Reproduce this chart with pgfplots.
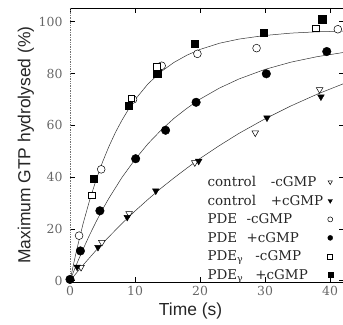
\documentclass[border=0pt]{standalone}
\usepackage{pgfplots}
\pgfplotsset{compat=1.18}
\usepackage{fontspec}
\setmainfont{DejaVu Serif}
\newfontfamily\labelfont{Liberation Sans}
\usetikzlibrary{calc}

\begin{document}
\begin{tikzpicture}
\begin{axis}[
  name=ax, at={(0,0)}, anchor=south west,
  scale only axis, width=274bp, height=274bp,
  xmin=0, xmax=42.15, ymin=-0.5, ymax=105.3,
  xtick={0,10,20,30,40}, ytick={0,20,40,60,80,100},
  tick align=inside, major tick length=5bp,
  tick style={black, line width=0.5bp},
  axis line style={draw=none},
  /pgf/number format/assume math mode=true,
  tick label style={font=\fontsize{12.5}{14}\selectfont, text=black!60},
  xticklabel style={yshift=-1bp},
  yticklabel style={xshift=-4bp},
  xlabel={Time (s)},
  ylabel={Maximum GTP hydrolysed (\%)},
  label style={font=\labelfont\fontsize{17.5}{20}\selectfont, text=black!85},
  xlabel style={at={(rel axis cs:0.44,0)}, anchor=north, yshift=-17bp},
  ylabel style={yshift=-2bp},
  legend plot pos=right,
  legend cell align=left,
  legend image post style={mark size=2.5bp},
  legend style={draw=none, fill=none, at={(axis cs:20.9,41.0)}, anchor=north west,
    font=\fontsize{13.5}{15}\selectfont, text=black!85, inner sep=0pt, row sep=4bp,
    nodes={inner sep=1.5bp},
    /tikz/every odd column/.append style={column sep=3bp}},
]
% fitted curves
\addplot[forget plot, black!80, line width=0.5bp] coordinates {
(0,0) (1,11.6) (2,21.9) (3,30.9) (4,38.8) (5,45.8) (6,51.9) (7,57.3) (8,62.0) (9,66.2)
(10,69.9) (12,76.0) (14,80.7) (16,84.3) (18,87.1) (20,89.3) (23,91.7) (26,93.3)
(30,94.7) (34,95.6) (38,96.1) (42.5,96.4)};
\addplot[forget plot, black!80, line width=0.5bp] coordinates {
(0,0) (1,6.3) (2,12.1) (3,17.6) (4,22.7) (5,27.5) (6,31.9) (8,39.9) (10,46.8)
(12,52.9) (14,58.1) (16,62.7) (18,66.6) (20,70.1) (23,74.4) (26,77.9) (30,81.6)
(34,84.4) (38,86.5) (42.5,88.3)};
\addplot[forget plot, black!80, line width=0.5bp] coordinates {
(0,0) (1,3.0) (2,6.0) (4,11.7) (6,17.0) (8,22.1) (10,26.9) (12,31.4) (14,35.7)
(16,39.7) (18,43.5) (20,47.2) (23,52.2) (26,56.9) (30,62.5) (34,67.5) (38,72.0) (42.5,76.5)};
% control -cGMP
\addplot[only marks, mark=triangle*, mark size=3.8bp, mark options={rotate=180, fill=white, draw=black, line width=0.5bp}]
 coordinates {(1.7,5.2) (4.9,14.8) (9.1,25.9) (19.2,45.6) (28.5,57.1) (38.4,73.8)};
\addlegendentry{control\hspace{1.1em}-cGMP}
% control +cGMP
\addplot[only marks, mark=triangle*, mark size=3.8bp, mark options={rotate=180, fill=black, draw=black}]
 coordinates {(0,0.5) (1.1,5.3) (4.3,12.9) (8.8,24.5) (13.2,34.7) (19.8,46.2) (30.3,62.9) (38.6,71.0)};
\addlegendentry{control\hspace{1.1em}+cGMP}
% PDE -cGMP
\addplot[only marks, mark=*, mark size=3.9bp, mark options={fill=white, draw=black, line width=0.5bp}]
 coordinates {(1.4,17.4) (4.8,43.0) (9.7,70.0) (14.1,83.0) (19.6,87.6) (28.7,89.8) (41.2,97.1)};
\addlegendentry{PDE\hspace{0.7em}-cGMP}
% PDE +cGMP
\addplot[only marks, mark=*, mark size=4.3bp, mark options={fill=black, draw=black}]
 coordinates {(0,0.5) (1.6,11.5) (4.6,27.0) (10.1,47.1) (14.7,58.1) (19.4,68.9) (30.2,79.9) (39.5,88.5)};
\addlegendentry{PDE\hspace{0.7em}+cGMP}
% PDEgamma -cGMP
\addplot[only marks, mark=square*, mark size=3.3bp, mark options={fill=white, draw=black, line width=0.5bp}]
 coordinates {(3.3,33.0) (9.4,70.5) (13.3,82.5) (37.8,97.5)};
\addlegendentry{PDE\textsubscript{γ}\hspace{0.9em}-cGMP}
% PDEgamma +cGMP
\addplot[only marks, mark=square*, mark size=3.6bp, mark options={fill=black, draw=black}]
 coordinates {(3.7,39.4) (9.0,67.6) (13.4,80.0) (19.2,91.4) (29.8,95.9) (38.8,101.0)};
\addlegendentry{PDE\textsubscript{γ}\hspace{0.9em}+cGMP}
% frame
\draw[black, line width=0.6bp] (rel axis cs:0,0) -- (rel axis cs:1,0);
\draw[black, line width=0.6bp] (rel axis cs:0,1) -- (rel axis cs:1,1);
\draw[black!55, line width=0.7bp, densely dotted] (rel axis cs:0,0) -- (rel axis cs:0,1);
\end{axis}
\pgfresetboundingbox
\path[use as bounding box] ($(ax.south west)+(-70bp,-43bp)$) rectangle ($(ax.north east)+(-1bp,8bp)$);
\end{tikzpicture}
\end{document}
